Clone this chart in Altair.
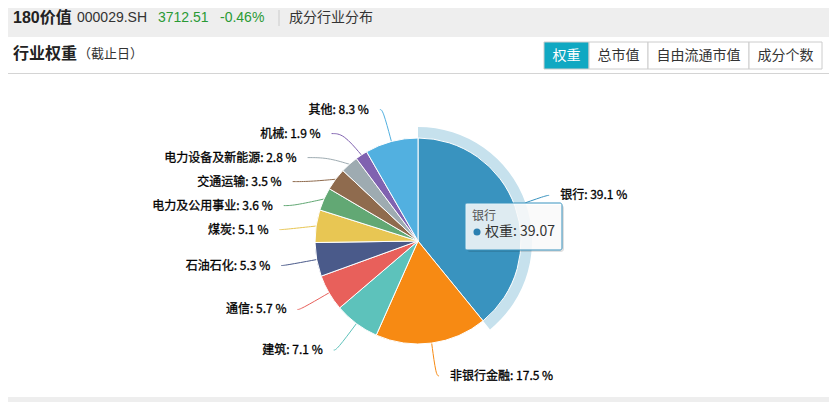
import math
import altair as alt
import pandas as pd

# ---------------- data ----------------
names = ["银行", "非银行金融", "建筑", "通信", "石油石化", "煤炭",
         "电力及公用事业", "交通运输", "电力设备及新能源", "机械", "其他"]
weights = [39.07, 17.5, 7.1, 5.7, 5.3, 5.1, 3.6, 3.5, 2.8, 1.9, 8.3]
colors = ["#3993bf", "#f78a13", "#5dc2bb", "#e8605b", "#4a5a8a", "#e8c653",
          "#62a874", "#8f6b4e", "#9eabb1", "#8062b0", "#52b0e0"]
highlight = "银行"
metric_name = "权重"

index_name = "180价值"
index_code = "000029.SH"
index_price = "3712.51"
index_change = "-0.46%"
section_title = "成分行业分布"
panel_title = "行业权重"
panel_note = "（截止日）"
tab_labels = ["权重", "总市值", "自由流通市值", "成分个数"]

# ---------------- layout (reference pixel space) ----------------
W, H = 821, 394
OFF = 8
CX, CY = 418, 241
R_PIE = 103
R_HALO = 114
R_LABEL = 136
LABEL_GAP = 24
TEXT_PAD = 14
LINE_PAD = 11
tab_edges = [544, 589, 648, 749, 822]
TAB_TOP, TAB_BOTTOM = 42, 69
HEAD_Y = 18
FONT = "Noto Sans CJK SC"
LATIN = "Liberation Sans, Noto Sans CJK SC"

xs = alt.Scale(domain=[OFF, OFF + W], nice=False, zero=False)
ys = alt.Scale(domain=[OFF, OFF + H], nice=False, zero=False, reverse=True)


def X(f="x"):
    return alt.X(f + ":Q", scale=xs, axis=None)


def Y(f="y"):
    return alt.Y(f + ":Q", scale=ys, axis=None)


def text_layer(rows, **kw):
    return alt.Chart(pd.DataFrame(rows)).mark_text(**kw).encode(
        x=X(), y=Y(), text="t:N")


# ---------------- label layout computed from the values ----------------
total = sum(weights)
rows = []
cum = 0.0
for i, (n, w) in enumerate(zip(names, weights)):
    mid = (cum + w / 2) / total * 2 * math.pi
    cum += w
    s, c = math.sin(mid), math.cos(mid)
    side = 1 if s >= 0 else -1
    rows.append(dict(name=n, w=w, idx=i, s=s, c=c, side=side,
                     ny=CY - R_LABEL * c))
for sd in (1, -1):
    grp = sorted([r for r in rows if r["side"] == sd], key=lambda r: r["ny"])
    prev = -1e9
    for r in grp:
        r["ly"] = max(r["ny"], prev + LABEL_GAP)
        prev = r["ly"]

line_rows, label_rows = [], []
for r in rows:
    sd = r["side"]
    dy = CY - r["ly"]
    dx = math.sqrt(max(R_LABEL ** 2 - dy ** 2, 0.0))
    tx = CX + sd * (dx + TEXT_PAD)
    p0 = (CX + R_PIE * r["s"], CY - R_PIE * r["c"])
    p1 = (CX + R_LABEL * r["s"], r["ly"])
    p2 = (tx - sd * LINE_PAD, r["ly"])
    for k, (px, py) in enumerate([p0, p1, p2]):
        line_rows.append(dict(name=r["name"], k=k, x=px, y=py))
    label_rows.append(dict(name=r["name"], side=sd, x=tx, y=r["ly"],
                           t=f"{r['name']}: {r['w']:.1f} %"))

pie_df = pd.DataFrame(dict(name=names, weight=weights, idx=list(range(len(names)))))
line_df = pd.DataFrame(line_rows)
label_df = pd.DataFrame(label_rows)
color_scale = alt.Scale(domain=names, range=colors)

# ---------------- page furniture ----------------
panel = alt.Chart(pd.DataFrame([dict(x=1, x2=834, y=37, y2=397)])).mark_rect(
    fill="white", cornerRadius=3).encode(x=X(), x2="x2:Q", y=Y(), y2="y2:Q")
panel_sep = alt.Chart(pd.DataFrame([dict(x=1, x2=834, y=73.5)])).mark_rule(
    color="#d4d4d4", strokeWidth=1).encode(x=X(), x2="x2:Q", y=Y())
head_sep = alt.Chart(pd.DataFrame([dict(x=279, y=10, y2=26)])).mark_rule(
    color="#cccccc", strokeWidth=1).encode(x=X(), y=Y(), y2="y2:Q")

header = [
    text_layer([dict(x=13, y=HEAD_Y, t=index_name)], font=LATIN, fontSize=16,
               fontWeight="bold", color="#222", align="left", baseline="middle"),
    text_layer([dict(x=77, y=HEAD_Y, t=index_code)], font=LATIN, fontSize=14,
               color="#333", align="left", baseline="middle"),
    text_layer([dict(x=158, y=HEAD_Y, t=index_price)], font=LATIN, fontSize=14,
               color="#2a9a35", align="left", baseline="middle"),
    text_layer([dict(x=220, y=HEAD_Y, t=index_change)], font=LATIN, fontSize=14,
               color="#2a9a35", align="left", baseline="middle"),
    text_layer([dict(x=289, y=HEAD_Y, t=section_title)], font=LATIN, fontSize=14,
               color="#333", align="left", baseline="middle"),
    text_layer([dict(x=13, y=54, t=panel_title)], font=FONT, fontSize=16,
               fontWeight="bold", color="#222", align="left", baseline="middle"),
    text_layer([dict(x=78, y=54, t=panel_note)], font=FONT, fontSize=13,
               color="#333", align="left", baseline="middle"),
]

tab_df = pd.DataFrame([dict(x=tab_edges[i], x2=tab_edges[i + 1], y=TAB_TOP, y2=TAB_BOTTOM,
                            xm=(tab_edges[i] + tab_edges[i + 1]) / 2, ym=(TAB_TOP + TAB_BOTTOM) / 2,
                            t=tab_labels[i], active=int(i == 0)) for i in range(len(tab_labels))])
tabs_rect = alt.Chart(tab_df).mark_rect(stroke="#cccccc", strokeWidth=1).encode(
    x=X(), x2="x2:Q", y=Y(), y2="y2:Q",
    fill=alt.condition(alt.datum.active == 1, alt.value("#10a8c2"), alt.value("white")))
tabs_text = alt.Chart(tab_df).mark_text(font=FONT, fontSize=14, baseline="middle").encode(
    x=X("xm"), y=Y("ym"), text="t:N",
    color=alt.condition(alt.datum.active == 1, alt.value("white"), alt.value("#333")))

# ---------------- pie ----------------
center = dict(x=alt.XDatum(CX, type="quantitative", scale=xs, axis=None),
              y=alt.YDatum(CY, type="quantitative", scale=ys, axis=None))

leader = alt.Chart(line_df).mark_line(interpolate="basis", strokeWidth=1).encode(
    x=X(), y=Y(), order="k:Q", detail="name:N",
    color=alt.Color("name:N", scale=color_scale, legend=None))

halo = alt.Chart(pie_df).mark_arc(radius=R_HALO, radius2=R_PIE).encode(
    theta=alt.Theta("weight:Q", stack=True),
    order=alt.Order("idx:Q"),
    color=alt.value("#c6e1ed"),
    opacity=alt.condition(alt.datum.name == highlight, alt.value(1), alt.value(0)),
    **center)

pie = alt.Chart(pie_df).mark_arc(radius=R_PIE, stroke="white", strokeWidth=1).encode(
    theta=alt.Theta("weight:Q", stack=True),
    order=alt.Order("idx:Q"),
    color=alt.Color("name:N", scale=color_scale, legend=None),
    **center)

label_style = dict(font=FONT, fontSize=12, color="#000", stroke="#000",
                   strokeWidth=0.3, baseline="middle")
labels_left = alt.Chart(label_df).transform_filter(alt.datum.side < 0).mark_text(
    align="right", **label_style).encode(x=X(), y=Y(), text="t:N")
labels_right = alt.Chart(label_df).transform_filter(alt.datum.side > 0).mark_text(
    align="left", **label_style).encode(x=X(), y=Y(), text="t:N")

# ---------------- tooltip ----------------
hi_idx = names.index(highlight)
tip_shadow = alt.Chart(pd.DataFrame([dict(x=467, x2=564, y=205, y2=252)])).mark_rect(
    fill="#000", opacity=0.12, cornerRadius=3).encode(x=X(), x2="x2:Q", y=Y(), y2="y2:Q")
tip_box = alt.Chart(pd.DataFrame([dict(x=465, x2=562, y=203, y2=250)])).mark_rect(
    fill="white", fillOpacity=0.84, stroke=colors[hi_idx], strokeWidth=1, cornerRadius=2).encode(
    x=X(), x2="x2:Q", y=Y(), y2="y2:Q")
tip_title = text_layer([dict(x=472, y=216, t=highlight)], font=FONT, fontSize=12,
                       color="#555", align="left", baseline="middle")
tip_dot = alt.Chart(pd.DataFrame([dict(x=477, y=232)])).mark_point(
    filled=True, size=50, shape="circle", opacity=1).encode(
    x=X(), y=Y(), color=alt.value("#2a7fb0"))
tip_value = text_layer([dict(x=485, y=232, t=f"{metric_name}: {weights[hi_idx]:.2f}")],
                       font=FONT, fontSize=14, color="#333", align="left", baseline="middle")

chart = alt.layer(
    panel, panel_sep, head_sep, *header, tabs_rect, tabs_text,
    leader, halo, pie, labels_left, labels_right,
    tip_shadow, tip_box, tip_title, tip_dot, tip_value,
).properties(
    width=W, height=H, autosize="none", padding=0, background="#eeeeee"
).configure_view(stroke=None)

chart.save("out.html", embed_options={"renderer": "svg", "actions": False})
